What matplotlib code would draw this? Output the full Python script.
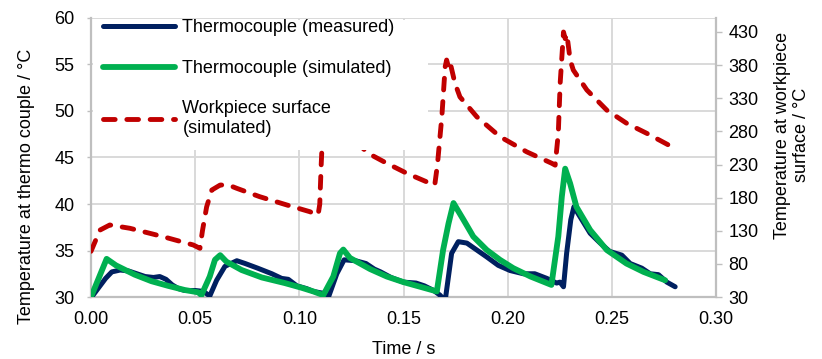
import matplotlib
matplotlib.use("Agg")
import matplotlib.pyplot as plt
from matplotlib.patches import Rectangle

plt.rcParams['font.family'] = ['Liberation Sans', 'DejaVu Sans']
plt.rcParams['font.size'] = 13

# ---------------- data ----------------
t_meas = [0.000, 0.003, 0.007, 0.010, 0.014, 0.018, 0.022, 0.026, 0.030, 0.033, 0.036, 0.039,
          0.042, 0.045, 0.050, 0.054, 0.057, 0.0603, 0.0643, 0.070, 0.074, 0.080, 0.0868,
          0.0915, 0.0947, 0.0988, 0.1035, 0.1067, 0.1115, 0.114, 0.118, 0.1215, 0.127,
          0.132, 0.136, 0.139, 0.144, 0.150, 0.156, 0.160, 0.1645, 0.1675, 0.170, 0.1731,
          0.1763, 0.1804, 0.1852, 0.190, 0.1955, 0.2011, 0.2075, 0.213, 0.2188, 0.2235,
          0.2251, 0.2268, 0.2283, 0.2303, 0.2318, 0.2348, 0.2396, 0.2444, 0.249, 0.2548,
          0.2588, 0.2644, 0.2684, 0.2724, 0.2764, 0.2804]
T_meas = [29.9, 30.8, 32.0, 32.7, 32.9, 32.8, 32.5, 32.2, 32.1, 32.2, 31.9, 31.3,
          30.9, 30.7, 30.7, 30.6, 30.1, 31.8, 33.3, 33.9, 33.6, 33.1, 32.5,
          32.0, 31.9, 31.2, 30.9, 30.6, 30.4, 30.0, 32.5, 34.0, 33.9,
          33.6, 33.0, 32.7, 32.1, 31.6, 31.5, 31.2, 30.7, 30.2, 29.6, 34.7,
          35.95, 35.8, 35.05, 34.3, 33.4, 32.85, 32.5, 32.5, 32.0, 31.5,
          31.6, 31.1, 34.7, 38.3, 39.7, 38.6, 36.85, 35.8, 34.9, 34.5,
          33.6, 33.1, 32.5, 32.4, 31.6, 31.1]

t_sim = [0.000, 0.0075, 0.012, 0.021, 0.029, 0.037, 0.045, 0.0515, 0.053, 0.057, 0.0595,
         0.062, 0.065, 0.0723, 0.082, 0.093, 0.101, 0.1067, 0.1115, 0.1163, 0.1195,
         0.1211, 0.1243, 0.134, 0.142, 0.150, 0.158, 0.166, 0.169, 0.1716, 0.174,
         0.1788, 0.1835, 0.190, 0.1963, 0.2027, 0.211, 0.221, 0.2243, 0.226, 0.2276,
         0.230, 0.233, 0.2396, 0.2476, 0.257, 0.2652, 0.2756]
T_sim = [30.0, 34.1, 33.4, 32.4, 31.7, 31.2, 30.75, 30.5, 30.2, 32.2, 34.0,
         34.5, 33.8, 32.9, 32.1, 31.5, 31.0, 30.6, 30.2, 32.2, 34.7,
         35.1, 34.2, 33.0, 32.2, 31.6, 31.1, 30.6, 35.05, 37.9, 40.1,
         38.3, 36.5, 35.05, 34.0, 33.1, 32.2, 31.3, 36.5, 40.8, 43.8,
         42.2, 39.7, 37.2, 35.05, 33.6, 32.7, 31.8]

t_wp = [0.000, 0.0043, 0.009, 0.0187, 0.0347, 0.0491, 0.0523, 0.0535, 0.0555, 0.058,
        0.062, 0.066, 0.070, 0.081, 0.094, 0.105, 0.109, 0.1098, 0.1105, 0.1115,
        0.1125, 0.1135, 0.1145, 0.120, 0.127, 0.133, 0.142, 0.1516, 0.161, 0.165,
        0.1663, 0.1684, 0.170, 0.1707, 0.1715, 0.1723, 0.1747, 0.1771, 0.1852,
        0.1963, 0.2092, 0.2212, 0.2228, 0.2243, 0.2252, 0.2268, 0.2276, 0.2284,
        0.230, 0.2315, 0.238, 0.2476, 0.2572, 0.2668, 0.2787]
T_wp = [99, 131, 138.7, 133.7, 121, 108.5, 103.5, 130, 166, 191.5,
        199, 199, 194, 181.4, 168.9, 158.8, 153.8, 170, 230, 300,
        322, 316, 322, 290, 265, 247, 231.8, 216.7, 204, 199,
        230, 302, 377.6, 387.7, 378, 385, 352.6, 332, 302,
        272, 249, 231.8, 229, 277, 352.6, 430, 420, 427,
        387.7, 372.6, 342.5, 312, 292, 277, 256.9]

x_ticks = [0.00, 0.05, 0.10, 0.15, 0.20, 0.25, 0.30]
y_left_ticks = [30, 35, 40, 45, 50, 55, 60]
y_right_ticks = [30, 80, 130, 180, 230, 280, 330, 380, 430]

labels = ["Thermocouple (measured)", "Thermocouple (simulated)",
          "Workpiece surface\n(simulated)"]

# ---------------- figure ----------------
W, H = 822, 359
fig = plt.figure(figsize=(W / 100, H / 100), dpi=100)
L, R, T, B = 91, 716, 18, 297
ax1 = fig.add_axes([L / W, 1 - B / H, (R - L) / W, (B - T) / H])

grid_c = '#d9d9d9'
spine_c = '#bfbfbf'
FS = 13

ax1.set_xlim(0, 0.30)
ax1.set_ylim(30, 60)
ax1.set_xticks(x_ticks)
ax1.set_xticklabels([f"{v:.2f}" for v in x_ticks])
ax1.set_yticks(y_left_ticks)
ax1.grid(True, color=grid_c, linewidth=1.4)
ax1.set_axisbelow(True)
for s in ['top', 'right']:
    ax1.spines[s].set_visible(False)
for s in ['left', 'bottom']:
    ax1.spines[s].set_color(spine_c)
    ax1.spines[s].set_linewidth(1.6)
ax1.tick_params(axis='y', length=3, width=1, color=spine_c, pad=9, labelsize=FS)
ax1.tick_params(axis='x', length=0, pad=10, labelsize=FS)

l1, = ax1.plot(t_meas, T_meas, color='#002060', linewidth=3.6,
               solid_joinstyle='round', solid_capstyle='round', zorder=3)
l2, = ax1.plot(t_sim, T_sim, color='#00B050', linewidth=4.2,
               solid_joinstyle='round', solid_capstyle='round', zorder=4)

ax2 = ax1.twinx()
ax2.set_ylim(30, 30 + (B - T) / 0.6625)
ax2.set_yticks(y_right_ticks)
for s in ['top', 'left', 'bottom']:
    ax2.spines[s].set_visible(False)
ax2.spines['right'].set_color(spine_c)
ax2.spines['right'].set_linewidth(1.6)
ax2.tick_params(axis='y', length=4, width=1, color=spine_c, pad=5, labelsize=FS)

l3, = ax2.plot(t_wp, T_wp, color='#C00000', linewidth=3.5,
               linestyle=(0, (2.4, 2.4)), dash_capstyle='round',
               dash_joinstyle='round', zorder=2)

# white legend area (covers grid and lines like the reference legend box)
rx0 = 2 / (R - L)
rx1 = (428 - L) / (R - L)
ry0 = (B - 150) / (B - T)
ry1 = (B - 19.5) / (B - T)
ax2.add_patch(Rectangle((rx0, ry0), rx1 - rx0, ry1 - ry0, transform=ax2.transAxes,
                        facecolor='white', edgecolor='none', zorder=3))

leg = ax2.legend([l1, l2, l3], labels, loc='upper left',
                 bbox_to_anchor=((103 - L) / (R - L), 0.995),
                 frameon=False, borderpad=0, borderaxespad=0,
                 handlelength=4.0, handletextpad=0.4, labelspacing=1.3,
                 fontsize=FS)
leg.set_zorder(5)

fig.text(27 / W, 1 - 186 / H, "Temperature at thermo couple / °C", rotation=90,
         ha='center', va='center', fontsize=FS)
fig.text(792 / W, 1 - 135 / H, "Temperature at workpiece\nsurface / °C", rotation=90,
         ha='center', va='center', fontsize=FS, multialignment='center')
fig.text((L + R) / 2 / W, 1 - 349 / H, "Time / s", ha='center', va='center', fontsize=FS)

fig.savefig("out.png", dpi=100)
